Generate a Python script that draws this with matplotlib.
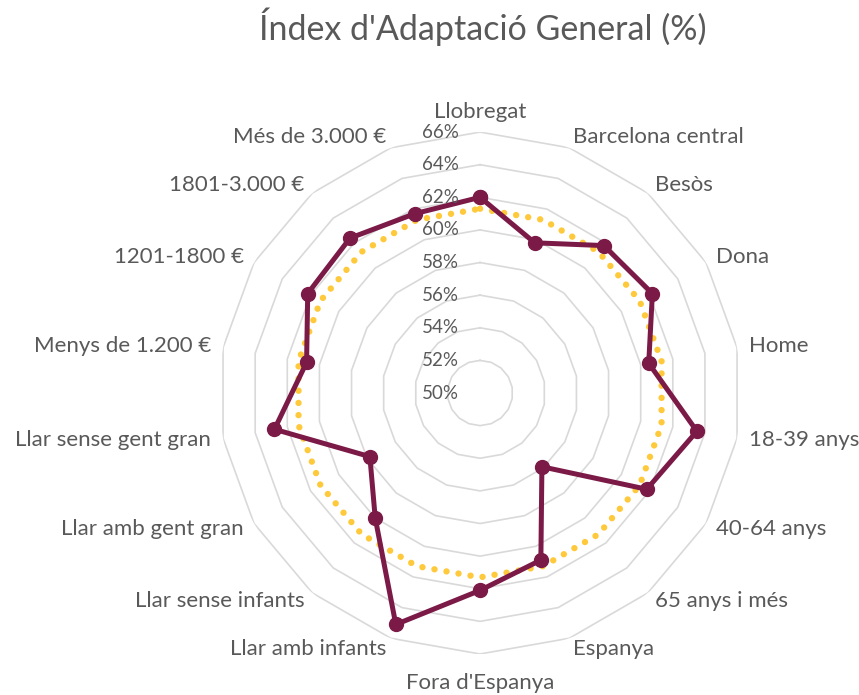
import matplotlib
matplotlib.use("Agg")
import matplotlib.pyplot as plt
import numpy as np

plt.rcParams['font.family'] = ['Lato', 'DejaVu Sans']

# categories (clockwise from top)
categories = ["Llobregat", "Barcelona central", "Besòs", "Dona", "Home",
              "18-39 anys", "40-64 anys", "65 anys i més", "Espanya",
              "Fora d'Espanya", "Llar amb infants", "Llar sense infants",
              "Llar amb gent gran", "Llar sense gent gran", "Menys de 1.200 €",
              "1201-1800 €", "1801-3.000 €", "Més de 3.000 €"]

# index values (%)
index_vals = [62.0, 59.8, 61.8, 62.2, 60.5, 63.5, 61.8, 55.9, 60.9,
              62.1, 65.1, 60.0, 57.8, 62.8, 60.8, 62.2, 62.4, 61.7]
# general average
mitjana = [61.3, 61.3, 61.3, 61.3, 61.3, 61.3, 61.3, 61.3, 61.3,
           61.3, 61.3, 61.3, 61.3, 61.3, 61.3, 61.3, 61.3, 61.3]

levels = [50, 52, 54, 56, 58, 60, 62, 64, 66]
level_labels = ["50%", "52%", "54%", "56%", "58%", "60%", "62%", "64%", "66%"]

txt_col = '#595959'
maroon = '#7B1A47'
gold = '#FFC93C'
grid_col = '#D9D9D9'

n = len(categories)
theta = np.arange(n) * 2 * np.pi / n
theta_c = np.append(theta, theta[0])

fig = plt.figure(figsize=(8.59, 6.95), dpi=100)
ax = fig.add_axes([0.255, 0.059, 0.6077, 0.751], projection='polar')
ax.set_theta_zero_location('N')
ax.set_theta_direction(-1)
ax.set_ylim(50, 66)
ax.grid(False)
ax.spines['polar'].set_visible(False)
ax.set_xticks([])
ax.set_yticks([])
ax.patch.set_alpha(0)

# polygon gridlines
for lv in levels[1:]:
    ax.plot(theta_c, [lv] * (n + 1), color=grid_col, lw=1.2, zorder=1)

# series
ax.plot(theta_c, np.append(mitjana, mitjana[0]), color=gold, lw=4.6,
        linestyle=(0, (0.01, 1.9)), dash_capstyle='round', zorder=2)
ax.plot(theta_c, np.append(index_vals, index_vals[0]), color=maroon, lw=3.6,
        marker='o', markersize=10, zorder=3, clip_on=False)

# radial tick labels
for lv, lab in zip(levels, level_labels):
    ax.annotate(lab, xy=(0, lv), xytext=(-15, 0), textcoords='offset points',
                ha='right', va='center', fontsize=13.5, color=txt_col,
                annotation_clip=False)

# category labels
for th, lab in zip(theta, categories):
    s, c = np.sin(th), np.cos(th)
    if abs(s) < 0.01:
        ha = 'center'
        va = 'bottom' if c > 0 else 'top'
        off = (0, 7 if c > 0 else -14)
    else:
        ha = 'left' if s > 0 else 'right'
        va = 'center'
        off = (8.6 * s, 8 * c)
    ax.annotate(lab, xy=(th, 66), xytext=off, textcoords='offset points',
                ha=ha, va=va, fontsize=16, color=txt_col, annotation_clip=False)

fig.text(0.562, 0.962, "Índex d'Adaptació General (%)", ha='center', va='center',
         fontsize=24.5, color=txt_col)

fig.savefig('out.png', dpi=100)
